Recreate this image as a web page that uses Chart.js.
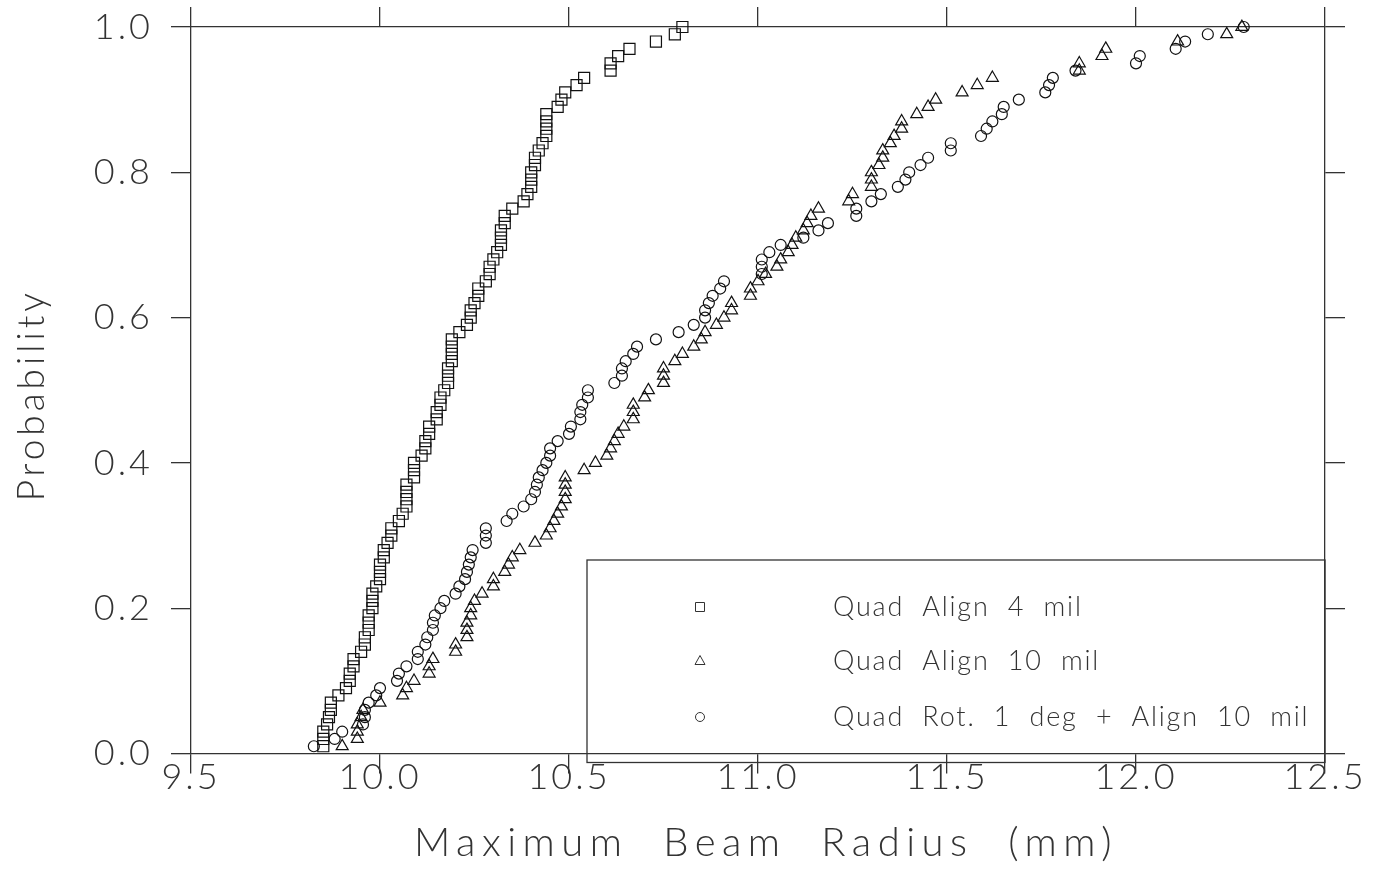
<!DOCTYPE html>
<html>
<head>
<meta charset="utf-8">
<script src="https://cdn.jsdelivr.net/npm/chart.js@4/dist/chart.umd.min.js"></script>
<style>
  html, body { margin: 0; padding: 0; background: #fff; }
  #chart { display: block; }
</style>
</head>
<body>
<canvas id="chart" width="1375" height="871"></canvas>
<script>
// cumulative probability levels (same for all three runs)
const probability = [
  0.01, 0.02, 0.03, 0.04, 0.05, 0.06, 0.07, 0.08, 0.09, 0.10,
  0.11, 0.12, 0.13, 0.14, 0.15, 0.16, 0.17, 0.18, 0.19, 0.20,
  0.21, 0.22, 0.23, 0.24, 0.25, 0.26, 0.27, 0.28, 0.29, 0.30,
  0.31, 0.32, 0.33, 0.34, 0.35, 0.36, 0.37, 0.38, 0.39, 0.40,
  0.41, 0.42, 0.43, 0.44, 0.45, 0.46, 0.47, 0.48, 0.49, 0.50,
  0.51, 0.52, 0.53, 0.54, 0.55, 0.56, 0.57, 0.58, 0.59, 0.60,
  0.61, 0.62, 0.63, 0.64, 0.65, 0.66, 0.67, 0.68, 0.69, 0.70,
  0.71, 0.72, 0.73, 0.74, 0.75, 0.76, 0.77, 0.78, 0.79, 0.80,
  0.81, 0.82, 0.83, 0.84, 0.85, 0.86, 0.87, 0.88, 0.89, 0.90,
  0.91, 0.92, 0.93, 0.94, 0.95, 0.96, 0.97, 0.98, 0.99, 1.00
];

// max beam radius (mm), squares
const quadAlign4 = [
  9.85, 9.85, 9.85, 9.86, 9.865, 9.87, 9.87, 9.89, 9.91, 9.92,
  9.92, 9.93, 9.93, 9.95, 9.96, 9.96, 9.97, 9.97, 9.97, 9.98,
  9.98, 9.98, 9.99, 10.00, 10.00, 10.00, 10.01, 10.01, 10.02, 10.03,
  10.03, 10.05, 10.06, 10.07, 10.07, 10.07, 10.07, 10.09, 10.09, 10.09,
  10.11, 10.12, 10.12, 10.13, 10.13, 10.15, 10.15, 10.16, 10.16, 10.17,
  10.18, 10.18, 10.18, 10.19, 10.19, 10.19, 10.19, 10.21, 10.23, 10.24,
  10.24, 10.25, 10.26, 10.26, 10.28, 10.29, 10.29, 10.30, 10.31, 10.32,
  10.32, 10.32, 10.33, 10.33, 10.35, 10.38, 10.39, 10.40, 10.40, 10.40,
  10.41, 10.41, 10.42, 10.43, 10.44, 10.44, 10.44, 10.44, 10.47, 10.48,
  10.49, 10.52, 10.54, 10.61, 10.61, 10.63, 10.66, 10.73, 10.78, 10.80
];

// triangles
const quadAlign10 = [
  9.90, 9.94, 9.94, 9.94, 9.95, 9.955, 10.00, 10.06, 10.07, 10.09,
  10.13, 10.13, 10.14, 10.20, 10.20, 10.23, 10.23, 10.23, 10.24, 10.24,
  10.25, 10.27, 10.30, 10.30, 10.33, 10.34, 10.35, 10.37, 10.41, 10.44,
  10.45, 10.46, 10.47, 10.48, 10.49, 10.49, 10.49, 10.49, 10.54, 10.57,
  10.60, 10.61, 10.62, 10.63, 10.645, 10.67, 10.67, 10.67, 10.70, 10.71,
  10.75, 10.75, 10.75, 10.78, 10.80, 10.83, 10.85, 10.86, 10.89, 10.91,
  10.93, 10.93, 10.98, 10.98, 11.00, 11.02, 11.05, 11.06, 11.08, 11.09,
  11.10, 11.12, 11.13, 11.14, 11.16, 11.24, 11.25, 11.30, 11.30, 11.30,
  11.32, 11.33, 11.33, 11.35, 11.36, 11.38, 11.38, 11.42, 11.45, 11.47,
  11.54, 11.58, 11.62, 11.85, 11.85, 11.91, 11.92, 12.11, 12.24, 12.28
];

// circles
const quadRotAlign10 = [
  9.825, 9.88, 9.90, 9.955, 9.96, 9.96, 9.97, 9.99, 10.00, 10.045,
  10.05, 10.07, 10.10, 10.10, 10.12, 10.125, 10.14, 10.14, 10.145, 10.16,
  10.17, 10.20, 10.21, 10.225, 10.23, 10.235, 10.24, 10.245, 10.28, 10.28,
  10.28, 10.335, 10.35, 10.38, 10.40, 10.41, 10.415, 10.42, 10.43, 10.44,
  10.45, 10.45, 10.47, 10.50, 10.505, 10.53, 10.53, 10.535, 10.55, 10.55,
  10.62, 10.64, 10.64, 10.65, 10.67, 10.68, 10.73, 10.79, 10.83, 10.86,
  10.86, 10.87, 10.88, 10.90, 10.91, 11.01, 11.01, 11.01, 11.03, 11.06,
  11.12, 11.16, 11.185, 11.26, 11.26, 11.30, 11.325, 11.37, 11.39, 11.40,
  11.43, 11.45, 11.51, 11.51, 11.59, 11.605, 11.62, 11.645, 11.65, 11.69,
  11.76, 11.77, 11.78, 11.84, 12.00, 12.01, 12.105, 12.13, 12.19, 12.285
];

const seriesLabels = [
  "Quad  Align  4  mil",
  "Quad  Align  10  mil",
  "Quad  Rot.  1  deg  +  Align  10  mil"
];

const xTitle = "Maximum  Beam  Radius  (mm)";
const yTitle = "Probability";

const xTicks = [9.5, 10.0, 10.5, 11.0, 11.5, 12.0, 12.5];
const xTickLabels = ["9.5", "10.0", "10.5", "11.0", "11.5", "12.0", "12.5"];
const yTicks = [0.0, 0.2, 0.4, 0.6, 0.8, 1.0];
const yTickLabels = ["0.0", "0.2", "0.4", "0.6", "0.8", "1.0"];

const INK = "#333";
const FONT = "Lato";

const toPoints = xs => xs.map((x, i) => ({ x: x, y: probability[i] }));

function setTicks(list) {
  return scale => { scale.ticks = list.map(v => ({ value: v })); };
}

/* ================= TITLES + LEGEND ================= */
const frameText = {
  id: "frameText",
  beforeDraw(chart) {
    chart.ctx.letterSpacing = "3px";
  },
  afterDraw(chart) {
    const { ctx, chartArea } = chart;
    ctx.save();
    ctx.fillStyle = INK;
    ctx.textBaseline = "middle";
    ctx.textAlign = "center";

    // axis titles
    ctx.letterSpacing = "6.5px";
    ctx.font = "300 40px " + FONT;
    ctx.fillText(xTitle, (chartArea.left + chartArea.right) / 2 + 8, chartArea.bottom + 90);

    ctx.save();
    ctx.translate(32, (chartArea.top + chartArea.bottom) / 2 + 5);
    ctx.rotate(-Math.PI / 2);
    ctx.letterSpacing = "4px";
    ctx.font = "300 37px " + FONT;
    ctx.fillText(yTitle, 0, 0);
    ctx.restore();

    // legend box
    const left = chartArea.left + 396;
    const top = chartArea.top + 533;
    const right = chartArea.right;
    const bottom = chartArea.bottom + 9;

    ctx.strokeStyle = INK;
    ctx.lineWidth = 1.3;
    ctx.strokeRect(left, top, right - left, bottom - top);

    const rowY = [top + 47, top + 101, top + 157];
    const markX = left + 113;
    const textX = left + 246;

    chart.data.datasets.forEach((ds, i) => {
      const y = rowY[i];
      ctx.beginPath();
      ctx.lineWidth = 1;
      if (ds.pointStyle === "rect") {
        ctx.rect(markX - 4.5, y - 4.5, 9, 9);
      } else if (ds.pointStyle === "triangle") {
        ctx.moveTo(markX, y - 5.5);
        ctx.lineTo(markX + 5, y + 3.5);
        ctx.lineTo(markX - 5, y + 3.5);
        ctx.closePath();
      } else {
        ctx.arc(markX, y, 4.5, 0, Math.PI * 2);
      }
      ctx.stroke();

      ctx.letterSpacing = "1.8px";
      ctx.font = "300 27px " + FONT;
      ctx.textAlign = "left";
      ctx.fillText(ds.label, textX, y);
    });
    ctx.restore();
  }
};

/* ================= CHART ================= */
const markerBase = {
  backgroundColor: "rgba(0,0,0,0)",
  borderColor: "#111",
  borderWidth: 1.2,
  clip: false
};

const frameGrid = { drawOnChartArea: false, drawTicks: true, tickLength: 20, color: INK, lineWidth: 1.3 };
const frameBorder = { display: true, color: INK, width: 1.3 };

new Chart(document.getElementById("chart"), {
  type: "scatter",
  data: {
    datasets: [
      { ...markerBase, label: seriesLabels[0], data: toPoints(quadAlign4), pointStyle: "rect", pointRadius: 7.8 },
      { ...markerBase, label: seriesLabels[1], data: toPoints(quadAlign10), pointStyle: "triangle", pointRadius: 6.9 },
      { ...markerBase, label: seriesLabels[2], data: toPoints(quadRotAlign10), pointStyle: "circle", pointRadius: 5.5 }
    ]
  },
  options: {
    responsive: false,
    animation: false,
    events: [],
    layout: { padding: 0 },
    plugins: {
      legend: { display: false },
      tooltip: { enabled: false }
    },
    scales: {
      x: {
        type: "linear",
        position: "bottom",
        min: 9.5,
        max: 12.5,
        afterBuildTicks: setTicks(xTicks),
        afterFit: s => { s.height = 117.5; },
        border: frameBorder,
        grid: frameGrid,
        ticks: {
          padding: -18,
          color: INK,
          font: { family: FONT, size: 36, weight: "300" },
          maxRotation: 0,
          callback: (v, i) => xTickLabels[i]
        }
      },
      x2: {
        type: "linear",
        position: "top",
        min: 9.5,
        max: 12.5,
        afterBuildTicks: setTicks(xTicks),
        afterFit: s => { s.height = 27; },
        border: frameBorder,
        grid: frameGrid,
        ticks: { display: false }
      },
      y: {
        type: "linear",
        position: "left",
        min: 0,
        max: 1,
        afterBuildTicks: setTicks(yTicks),
        afterFit: s => { s.width = 191; },
        border: frameBorder,
        grid: frameGrid,
        ticks: {
          padding: 18,
          color: INK,
          font: { family: FONT, size: 36, weight: "300", lineHeight: 0.4 },
          callback: (v, i) => yTickLabels[i]
        }
      },
      y2: {
        type: "linear",
        position: "right",
        min: 0,
        max: 1,
        afterBuildTicks: setTicks(yTicks),
        afterFit: s => { s.width = 50; },
        border: frameBorder,
        grid: frameGrid,
        ticks: { display: false }
      }
    }
  },
  plugins: [frameText]
});
</script>
</body>
</html>
